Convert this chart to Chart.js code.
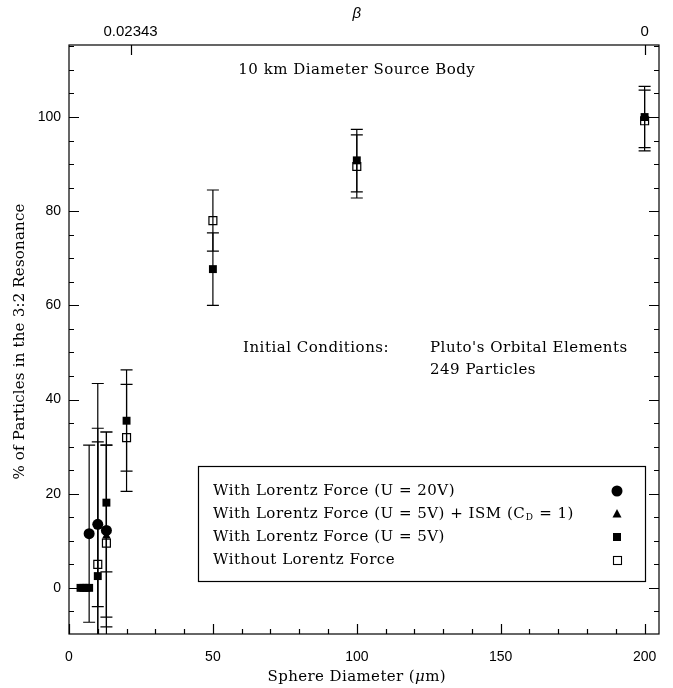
<!DOCTYPE html>
<html>
<head>
<meta charset="utf-8">
<script src="https://cdn.jsdelivr.net/npm/chart.js@4.4.0/dist/chart.umd.min.js"></script>
<style>
  html, body { margin: 0; padding: 0; background: #fff; }
  #wrap { width: 673px; height: 688px; }
</style>
</head>
<body>
<div id="wrap"><canvas id="c" width="673" height="688"></canvas></div>
<script>
// Sphere diameters (µm), capture percentages and error-bar limits for each run
const lorentz20V_d   = [7, 10, 13];
const lorentz20V_pct = [11.5, 13.5, 12.2];
const lorentz20V_lo  = [-7.3, -4.0, -6.2];
const lorentz20V_hi  = [30.3, 31.0, 30.3];

const lorentzISM_d   = [13];
const lorentzISM_pct = [11.0];
const lorentzISM_lo  = [-8.3];
const lorentzISM_hi  = [30.3];

const lorentz5V_d   = [4, 5, 6, 7, 10, 13, 20, 50, 100, 200];
const lorentz5V_pct = [0, 0, 0, 0, 2.5, 18.1, 35.5, 67.7, 90.8, 100];
const lorentz5V_lo  = [null, null, null, null, -28.9, 3.4, 24.8, 60.0, 84.1, 93.5];
const lorentz5V_hi  = [null, null, null, null, 33.9, 33.1, 46.3, 75.4, 97.4, 106.5];

const noLorentz_d   = [10, 13, 20, 50, 100, 200];
const noLorentz_pct = [5.0, 9.5, 31.9, 78.0, 89.5, 99.2];
const noLorentz_lo  = [-33.4, -14.1, 20.5, 71.5, 82.8, 92.8];
const noLorentz_hi  = [43.4, 33.1, 43.2, 84.5, 96.2, 105.7];

const xTickValues = [0, 50, 100, 150, 200];
const yTickValues = [0, 20, 40, 60, 80, 100];
const betaTickPositions = [21.4, 200];
const betaTickLabels = ['0.02343', '0'];

const SERIF = '"DejaVu Serif", "Liberation Serif", serif';
const SANS = '"Liberation Sans", Arial, sans-serif';
const TEXT_FONT = '15px ' + SERIF;

function pts(xs, ys) { return xs.map((x, i) => ({ x: x, y: ys[i] })); }

const datasets = [
  { label: 'With Lorentz Force (U = 20V)', data: pts(lorentz20V_d, lorentz20V_pct),
    lo: lorentz20V_lo, hi: lorentz20V_hi,
    pointStyle: 'circle', pointRadius: 5.5, backgroundColor: '#000', borderColor: '#000', borderWidth: 0 },
  { label: 'With Lorentz Force (U = 5V) + ISM (C_D = 1)', data: pts(lorentzISM_d, lorentzISM_pct),
    lo: lorentzISM_lo, hi: lorentzISM_hi,
    pointStyle: 'triangle', pointRadius: 5, backgroundColor: '#000', borderColor: '#000', borderWidth: 0 },
  { label: 'With Lorentz Force (U = 5V)', data: pts(lorentz5V_d, lorentz5V_pct),
    lo: lorentz5V_lo, hi: lorentz5V_hi,
    pointStyle: 'rect', pointRadius: 5.6, backgroundColor: '#000', borderColor: '#000', borderWidth: 0 },
  { label: 'Without Lorentz Force', data: pts(noLorentz_d, noLorentz_pct),
    lo: noLorentz_lo, hi: noLorentz_hi,
    pointStyle: 'rect', pointRadius: 5.6, backgroundColor: 'rgba(0,0,0,0)', borderColor: '#000', borderWidth: 1.2 }
];

// Error bars with caps, clipped to the plotting frame
const errorBars = {
  id: 'errorBars',
  beforeDatasetsDraw(chart) {
    const { ctx, chartArea: a } = chart;
    const xs = chart.scales.x, ys = chart.scales.y;
    const cap = 6;
    ctx.save();
    ctx.strokeStyle = '#000';
    ctx.lineWidth = 1.2;
    chart.data.datasets.forEach(ds => {
      ds.data.forEach((p, i) => {
        const lo = ds.lo[i], hi = ds.hi[i];
        if (lo == null || hi == null) return;
        const px = xs.getPixelForValue(p.x);
        const yl = ys.getPixelForValue(lo), yh = ys.getPixelForValue(hi);
        const top = Math.max(yh, a.top), bot = Math.min(yl, a.bottom);
        ctx.beginPath();
        ctx.moveTo(px, top); ctx.lineTo(px, bot);
        if (yh >= a.top) { ctx.moveTo(px - cap, yh); ctx.lineTo(px + cap, yh); }
        if (yl <= a.bottom) { ctx.moveTo(px - cap, yl); ctx.lineTo(px + cap, yl); }
        ctx.stroke();
      });
    });
    ctx.restore();
  }
};

// Box frame with inward major/minor ticks on all four sides
const frame = {
  id: 'frame',
  afterDatasetsDraw(chart) {
    const { ctx, chartArea: a } = chart;
    const xs = chart.scales.x, ys = chart.scales.y;
    ctx.save();
    ctx.strokeStyle = '#000';
    ctx.lineWidth = 1.2;
    ctx.strokeRect(a.left, a.top, a.right - a.left, a.bottom - a.top);
    ctx.beginPath();
    for (let v = 0; v <= 205; v += 10) {
      const px = Math.round(xs.getPixelForValue(v)) + 0.5;
      const len = (v % 50 === 0) ? 10 : 5;
      ctx.moveTo(px, a.bottom); ctx.lineTo(px, a.bottom - len);
    }
    betaTickPositions.forEach(v => {
      const px = Math.round(xs.getPixelForValue(v)) + 0.5;
      ctx.moveTo(px, a.top); ctx.lineTo(px, a.top + 10);
    });
    for (let v = -5; v <= 115; v += 5) {
      const py = Math.round(ys.getPixelForValue(v)) + 0.5;
      const len = (v % 20 === 0) ? 10 : 5;
      ctx.moveTo(a.left, py); ctx.lineTo(a.left + len, py);
      ctx.moveTo(a.right, py); ctx.lineTo(a.right - len, py);
    }
    ctx.stroke();
    ctx.restore();
  }
};

// Axis titles, annotations and the boxed key
const notes = {
  id: 'notes',
  afterDraw(chart) {
    const ctx = chart.ctx;
    const xs = chart.scales.x, a = chart.chartArea;
    const xMid = (xs.getPixelForValue(0) + xs.getPixelForValue(200)) / 2;
    ctx.save();
    ctx.fillStyle = '#000';
    ctx.textBaseline = 'middle';

    // bottom axis title with italic mu
    ctx.font = TEXT_FONT;
    ctx.letterSpacing = '0.4px';
    const p1 = 'Sphere Diameter (', p3 = 'm)';
    ctx.font = 'italic 15px ' + SERIF;
    const wMu = ctx.measureText('\u03bc').width;
    ctx.font = TEXT_FONT;
    const w1 = ctx.measureText(p1).width, w3 = ctx.measureText(p3).width;
    let x0 = xMid - (w1 + wMu + w3) / 2;
    ctx.textAlign = 'left';
    ctx.fillText(p1, x0, 677);
    ctx.font = 'italic 15px ' + SERIF;
    ctx.fillText('\u03bc', x0 + w1, 677);
    ctx.font = TEXT_FONT;
    ctx.fillText(p3, x0 + w1 + wMu, 677);

    // top axis title
    ctx.letterSpacing = '0px';
    ctx.textAlign = 'center';
    ctx.font = 'italic 15px ' + SANS;
    ctx.fillText('\u03b2', xMid, 14);

    // left axis title
    ctx.save();
    ctx.translate(20, (a.top + a.bottom) / 2 + 2);
    ctx.rotate(-Math.PI / 2);
    ctx.font = TEXT_FONT;
    ctx.letterSpacing = '0.2px';
    ctx.fillText('% of Particles in the 3:2 Resonance', 0, 0);
    ctx.restore();

    ctx.font = TEXT_FONT;
    ctx.letterSpacing = '0.5px';
    ctx.textAlign = 'center';
    ctx.fillText('10 km Diameter Source Body', xMid, 70);
    ctx.textAlign = 'left';
    ctx.fillText('Initial Conditions:', 243, 348);
    ctx.fillText("Pluto's Orbital Elements", 430, 348);
    ctx.fillText('249 Particles', 430, 370);

    // key box
    ctx.lineWidth = 1.2;
    ctx.strokeStyle = '#000';
    ctx.strokeRect(198.5, 466.5, 447, 115);
    const rows = [491, 514, 537, 560];
    const tx = 213, mx = 617;
    ctx.fillText(datasets[0].label, tx, rows[0]);
    // row with subscript D
    const s1 = 'With Lorentz Force (U = 5V) + ISM (C';
    ctx.fillText(s1, tx, rows[1]);
    const w = ctx.measureText(s1).width;
    ctx.font = '9px ' + SERIF;
    ctx.fillText('D', tx + w + 0.5, rows[1] + 4);
    const w2 = ctx.measureText('D').width;
    ctx.font = TEXT_FONT;
    ctx.fillText(' = 1)', tx + w + w2 + 1, rows[1]);
    ctx.fillText(datasets[2].label, tx, rows[2]);
    ctx.fillText(datasets[3].label, tx, rows[3]);

    // key markers
    ctx.beginPath(); ctx.arc(mx, rows[0], 5.5, 0, Math.PI * 2); ctx.fill();
    ctx.beginPath();
    ctx.moveTo(mx, rows[1] - 5); ctx.lineTo(mx + 4.5, rows[1] + 3.5); ctx.lineTo(mx - 4.5, rows[1] + 3.5);
    ctx.closePath(); ctx.fill();
    ctx.fillRect(mx - 4, rows[2] - 4, 8, 8);
    ctx.lineWidth = 1.1;
    ctx.strokeRect(mx - 3.5, rows[3] - 3.5, 8, 8);
    ctx.restore();
  }
};

new Chart(document.getElementById('c'), {
  type: 'scatter',
  data: { datasets: datasets },
  options: {
    responsive: false,
    animation: false,
    layout: { padding: { left: 0, right: 14, top: 0, bottom: 0 } },
    plugins: { legend: { display: false }, tooltip: { enabled: false } },
    scales: {
      x: {
        type: 'linear', position: 'bottom', min: 0, max: 205,
        afterBuildTicks: s => { s.ticks = xTickValues.map(v => ({ value: v })); },
        afterFit: s => { s.height = 54; },
        grid: { display: false, drawTicks: false },
        border: { display: false },
        ticks: { color: '#000', font: { family: SANS, size: 14 }, padding: 15, maxRotation: 0 },
        title: { display: false }
      },
      x2: {
        type: 'linear', position: 'top', min: 0, max: 205,
        afterBuildTicks: s => { s.ticks = betaTickPositions.map(v => ({ value: v })); },
        afterFit: s => { s.height = 45; },
        grid: { display: false, drawTicks: false },
        border: { display: false },
        ticks: { color: '#000', font: { family: SANS, size: 15 }, padding: 4, maxRotation: 0,
                 callback: (v, i) => betaTickLabels[i] },
        title: { display: false }
      },
      y: {
        type: 'linear', position: 'left', min: -9.8, max: 115.3,
        afterBuildTicks: s => { s.ticks = yTickValues.map(v => ({ value: v })); },
        afterFit: s => { s.width = 69; },
        grid: { display: false, drawTicks: false },
        border: { display: false },
        ticks: { color: '#000', font: { family: SANS, size: 14 }, padding: 8 },
        title: { display: false }
      }
    }
  },
  plugins: [errorBars, frame, notes]
});
</script>
</body>
</html>
